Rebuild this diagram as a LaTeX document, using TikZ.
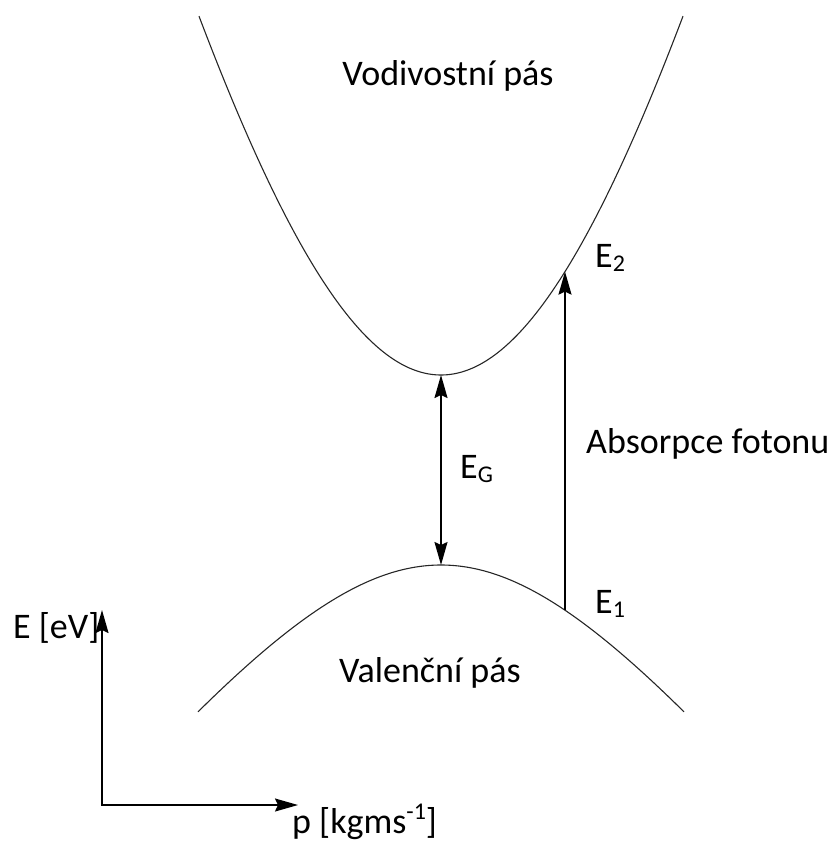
\documentclass[tikz,border=0pt]{standalone}
\usepackage{fontspec}
\setmainfont{Carlito}
\usetikzlibrary{arrows.meta}
\newcommand{\mysub}[1]{\raisebox{-0.12em}{\fontsize{24}{24}\selectfont #1}}
\newcommand{\mysup}[1]{\raisebox{0.38em}{\fontsize{24}{24}\selectfont #1}}
\begin{document}
\begin{tikzpicture}[x=1pt,y=-1pt,
  >={Stealth[length=23pt,width=13pt,inset=3pt]},
  band/.style={line width=1.1pt, black!85},
  arr/.style={line width=1.6pt, black},
  lbl/.style={inner sep=0pt, font=\fontsize{36}{43}\selectfont}]
\useasboundingbox (0,0) rectangle (836,841);
% bands
\draw[band] plot[domain=-242:242, samples=121, smooth] ({441+\x},{375-1260*(sqrt(1+(\x/300)^2)-1)});
\draw[band] plot[domain=-243:243, samples=121, smooth] ({441+\x},{565+256*(sqrt(1+(\x/200)^2)-1)});
% points
\coordinate (cmin) at (441,375);
\coordinate (vmax) at (441,565);
\coordinate (e2p) at (565,{375-1260*(sqrt(1+(124/300)^2)-1)});
\coordinate (e1p) at (565,{565+256*(sqrt(1+(124/200)^2)-1)});
\coordinate (O) at (102,805);
\coordinate (ytip) at (102,610);
\coordinate (xtip) at (298,805);
% arrows
\draw[arr,<->] (vmax) -- (cmin);
\draw[arr,->] (e1p) -- (e2p);
\draw[arr,<->] (ytip) -- (O) -- (xtip);
% labels
\node[lbl, anchor=base] (vod) at (448,85) {Vodivostní pás};
\node[lbl, anchor=base] (val) at (430,682) {Valenční pás};
\node[lbl, anchor=base west] (e2) at (595,267) {E\mysub{2}};
\node[lbl, anchor=base west] (e1) at (595,613) {E\mysub{1}};
\node[lbl, anchor=base west] (eg) at (460,478) {E\mysub{G}};
\node[lbl, anchor=base west] (abs) at (586,453) {Absorpce fotonu};
\node[lbl, anchor=base west] (ey) at (13,638) {E [eV]};
\node[lbl, anchor=base west] (px) at (292,833) {p [kgms\mysup{-1}]};
\end{tikzpicture}
\end{document}
